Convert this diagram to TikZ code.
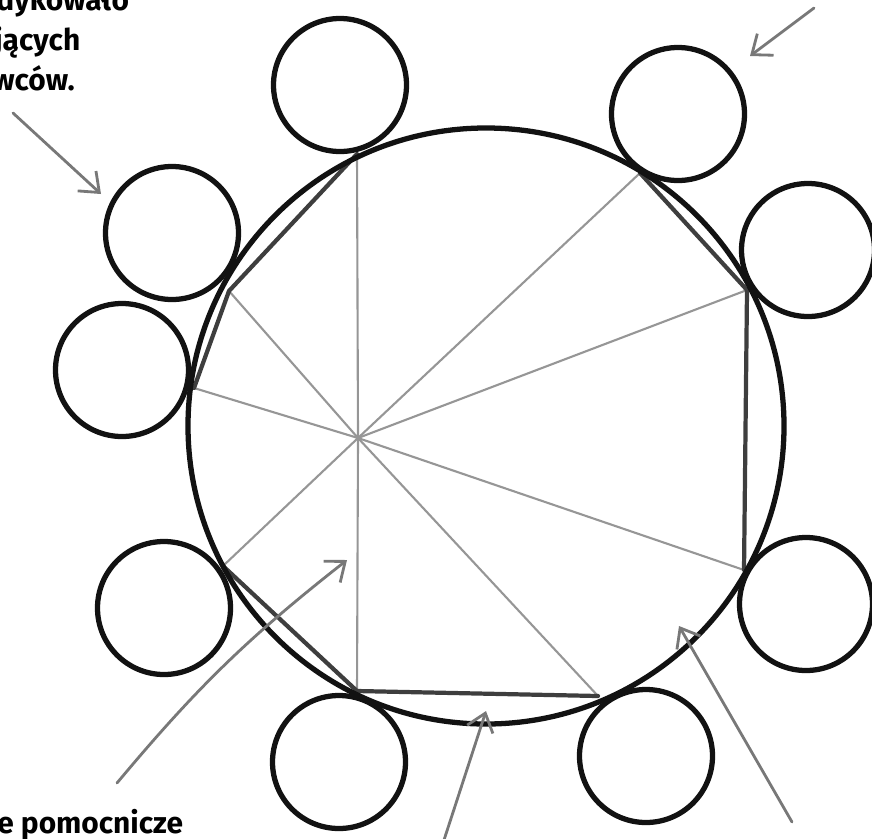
\documentclass[tikz,border=0pt]{standalone}
\usepackage{fontspec}
\setmainfont{Fira Sans}
\usetikzlibrary{arrows.meta}
\definecolor{pencil}{RGB}{18,18,18}
\definecolor{chordgray}{RGB}{62,62,62}
\definecolor{spokegray}{RGB}{150,150,150}
\definecolor{hintgray}{RGB}{120,120,120}
\tikzset{
  seat/.style={circle,draw=pencil,line width=3pt,minimum size=26.6mm,inner sep=0pt},
  rim/.style={draw=pencil,line width=3pt},
  chord/.style={draw=chordgray,line width=2.4pt,line cap=round},
  spoke/.style={draw=spokegray,line width=1.2pt},
  hint/.style={draw=hintgray,line width=1.6pt,line cap=round,-{Straight Barb[length=3.4mm,width=5.4mm]}},
  note/.style={font=\fontsize{17}{20}\selectfont\bfseries,inner sep=0pt,anchor=base west}
}
\begin{document}
\begin{tikzpicture}[x=0.2mm,y=-0.2mm]
  \clip (0,0) rectangle (872,838);
  % polygon corners and hub
  \coordinate (hub) at (358,438);
  \coordinate (v1) at (357,154); \coordinate (v2) at (640,173);
  \coordinate (v3) at (747,290); \coordinate (v4) at (744,570);
  \coordinate (v5) at (598,696); \coordinate (v6) at (357,691);
  \coordinate (v7) at (223,566); \coordinate (v8) at (194,388);
  \coordinate (v9) at (229,291);
  \foreach \v in {v1,v2,v3,v4,v5,v6,v7,v8,v9} \draw[spoke] (hub) -- (\v);
  \draw[chord] (v9) -- (v1); \draw[chord] (v2) -- (v3) -- (v4);
  \draw[chord] (v5) -- (v6) -- (v7); \draw[chord] (v8) -- (v9);
  % table and seats
  \coordinate (table) at (486,426);
  \draw[rim] (table) circle [radius=298];
  \node[seat] (s1) at (340,85) {};
  \node[seat] (s2) at (678,114) {};
  \node[seat] (s3) at (808,250) {};
  \node[seat] (s4) at (172,233) {};
  \node[seat] (s5) at (122,370) {};
  \node[seat] (s6) at (164,608) {};
  \node[seat] (s7) at (806,604) {};
  \node[seat] (s8) at (339,762) {};
  \node[seat] (s9) at (646,756) {};
  % labels
  \node[note] (txtA) at (-4,10) {dykowało};
  \node[note] (txtB) at (-6,50) {jących};
  \node[note] (txtC) at (-8,90) {wców.};
  \node[note] (txtD) at (-3,833) {e pomocnicze};
  % pointers
  \coordinate (a1s) at (13,113);  \coordinate (a1e) at (101,194);
  \coordinate (a2s) at (814,8);   \coordinate (a2e) at (750,56);
  \coordinate (a3s) at (117,783); \coordinate (a3e) at (347,560);
  \coordinate (a4s) at (444,840); \coordinate (a4e) at (486,711);
  \coordinate (a5s) at (792,822); \coordinate (a5e) at (679,626);
  \draw[hint] (a1s) -- (a1e);
  \draw[hint] (a2s) -- (a2e);
  \draw[hint] (a3s) to[bend left=6] (a3e);
  \draw[hint] (a4s) -- (a4e);
  \draw[hint] (a5s) -- (a5e);
\end{tikzpicture}
\end{document}
